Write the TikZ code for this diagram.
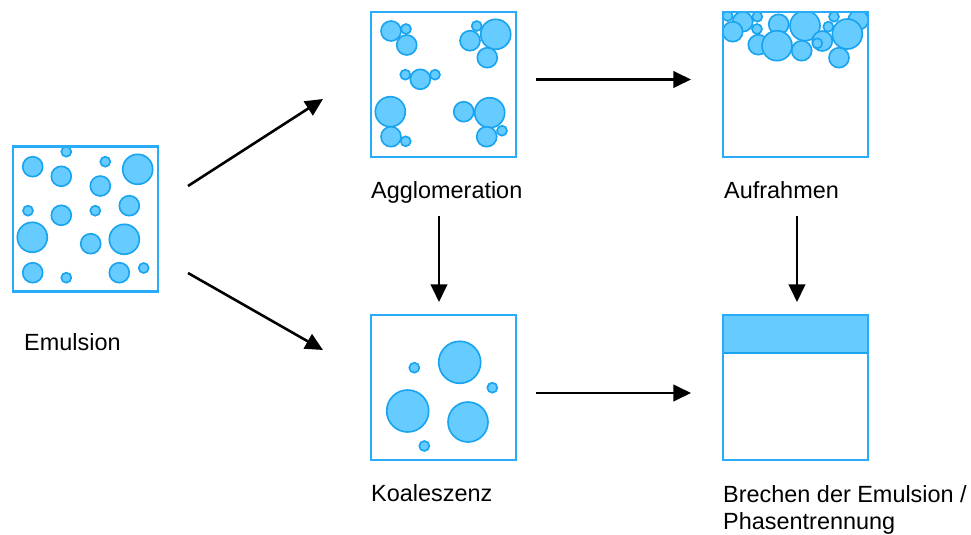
\documentclass[tikz,border=0pt]{standalone}
\usepackage{fontspec}
\setmainfont{Liberation Sans}
\usepackage{tikz}
\usetikzlibrary{arrows.meta,positioning,calc}
\definecolor{dropfill}{RGB}{102,204,255}
\definecolor{dropline}{RGB}{26,164,240}
\definecolor{boxline}{RGB}{40,172,250}
\newcommand{\drop}[3]{\draw[drop] (#1,#2) circle[radius=#3*0.03cm];}
\begin{document}
\begin{tikzpicture}[x=0.03cm,y=-0.03cm,
  vessel/.style={draw=boxline,line width=1.8pt,minimum size=4.35cm,inner sep=0pt},
  drop/.style={draw=dropline,fill=dropfill,line width=1.4pt},
  caption/.style={anchor=base west,inner sep=0pt,align=left,font=\fontsize{20}{22.7}\selectfont},
  flow/.style={line width=2.2pt,-{Triangle[length=15pt,width=14pt]}}]
\useasboundingbox (0,0) rectangle (971,535);
% Emulsion
\drop{32.7}{166.7}{10}
\drop{66.3}{151.7}{5}
\drop{61.3}{176.3}{10}
\drop{105.3}{161.7}{5}
\drop{137.7}{169.3}{15}
\drop{100.3}{186}{10}
\drop{28}{210.7}{5}
\drop{61.3}{215.3}{10}
\drop{95.3}{210.7}{5}
\drop{129.3}{205.7}{10}
\drop{32.3}{237.3}{15}
\drop{90.7}{243.7}{10}
\drop{124.3}{239.3}{15}
\drop{32.7}{272.7}{10}
\drop{66.3}{277.7}{5}
\drop{119.3}{272.7}{10}
\drop{143.7}{268}{5}
% Agglomeration
\drop{391}{31}{10}
\drop{406}{29}{5}
\drop{406.7}{45}{10}
\drop{476.7}{26}{5}
\drop{470}{40.7}{10}
\drop{495.7}{34.3}{15}
\drop{487.3}{57.7}{10}
\drop{405.3}{74.7}{5}
\drop{435}{74.7}{5}
\drop{420.3}{79.3}{10}
\drop{390.3}{111.7}{15}
\drop{391}{136.7}{10}
\drop{405.7}{141.3}{5}
\drop{463.7}{111.7}{10}
\drop{489.7}{112.7}{15}
\drop{486.7}{136.7}{10}
\drop{502}{130.7}{5}
% Aufrahmen
\begin{scope}
\clip (723,12) rectangle (868,157);
\drop{727.7}{16}{5}
\drop{742.7}{21.7}{10}
\drop{757.3}{16.7}{5}
\drop{732.7}{31.7}{10}
\drop{757}{29}{5}
\drop{778.7}{24.3}{10}
\drop{805}{25.7}{15}
\drop{758.3}{44.7}{10}
\drop{777}{45.7}{15}
\drop{801.7}{50.7}{10}
\drop{834}{16.7}{5}
\drop{858.3}{20}{10}
\drop{828.3}{26.7}{5}
\drop{822.3}{41}{10}
\drop{817.3}{43.3}{5}
\drop{847.3}{34}{15}
\drop{839}{57.7}{10}
\end{scope}
% Koaleszenz
\drop{459.7}{362.3}{21}
\drop{414.3}{367.7}{5}
\drop{492.3}{387.7}{5}
\drop{407.7}{411}{21}
\drop{468}{422}{20}
\drop{424.3}{446}{5}
% Phasentrennung
\draw[drop] (723,315) rectangle (868,353);
% boxes
\node[vessel] (emul) at (85.5,219) {};
\node[vessel] (agglo) at (443.5,84.5) {};
\node[vessel] (auf) at (795.5,84.5) {};
\node[vessel] (koal) at (443.5,387.5) {};
\node[vessel] (phase) at (795.5,387.5) {};
% labels
\node[caption] (emullab) at (24,350) {Emulsion};
\node[caption] (agglolab) at (371,198) {Agglomeration};
\node[caption] (auflab) at (724,198) {Aufrahmen};
\node[caption] (koallab) at (371,501) {Koaleszenz};
\node[caption] (phaselab) at (723,529) {Brechen der Emulsion /\\Phasentrennung};
% arrows
\coordinate (e1s) at (188,186);
\coordinate (e1e) at (323,99);
\coordinate (e2s) at (188,273);
\coordinate (e2e) at (323,350);
\coordinate (a1s) at (536,79.5);
\coordinate (a1e) at (691,79.5);
\coordinate (k1s) at (536,393);
\coordinate (k1e) at (691,393);
\coordinate (v1s) at (439,216);
\coordinate (v1e) at (439,302);
\coordinate (v2s) at (797,216);
\coordinate (v2e) at (797,302);
\draw[flow] (e1s) -- (e1e);
\draw[flow] (e2s) -- (e2e);
\draw[flow] (a1s) -- (a1e);
\draw[flow] (k1s) -- (k1e);
\draw[flow] (v1s) -- (v1e);
\draw[flow] (v2s) -- (v2e);
\end{tikzpicture}
\end{document}
